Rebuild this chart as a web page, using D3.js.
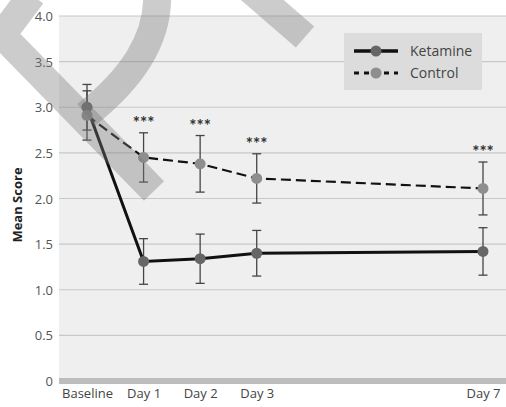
<!DOCTYPE html>
<html>
<head>
<meta charset="utf-8">
<script src="https://cdn.jsdelivr.net/npm/d3@7"></script>
<style>
  html, body { margin: 0; padding: 0; background: #ffffff; }
  svg { display: block; }
</style>
</head>
<body>
<svg id="chart" width="506" height="407"></svg>
<script>
// Time points (days after treatment) and their axis labels
const days = [0, 1, 2, 3, 7];
const dayLabels = ["Baseline", "Day 1", "Day 2", "Day 3", "Day 7"];

// Mean scores and error half-widths per group
const ketamineMean = [3.00, 1.31, 1.34, 1.40, 1.42];
const ketamineErr  = [0.25, 0.25, 0.27, 0.25, 0.26];
const controlMean  = [2.91, 2.45, 2.38, 2.22, 2.11];
const controlErr   = [0.27, 0.27, 0.31, 0.27, 0.29];

// Significance markers above the control group
const significance = ["", "***", "***", "***", "***"];

// Y axis ticks and their labels
const yTicks = [0, 0.5, 1.0, 1.5, 2.0, 2.5, 3.0, 3.5, 4.0];
const yTickLabels = ["0", "0.5", "1.0", "1.5", "2.0", "2.5", "3.0", "3.5", "4.0"];

const seriesNames = ["Ketamine", "Control"];

const svg = d3.select("#chart");
const plot = { left: 59, right: 506, top: 16, bottom: 381 };

const x = d3.scaleLinear().domain([0, 7]).range([87, 483]);
const y = d3.scaleLinear().domain([0, 4]).range([plot.bottom, plot.top]);

const font = "'Open Sans', 'DejaVu Sans', sans-serif";

// Plot background
svg.append("rect")
  .attr("x", plot.left).attr("y", plot.top)
  .attr("width", plot.right - plot.left).attr("height", plot.bottom - plot.top)
  .attr("fill", "#efefef");

// Horizontal gridlines
svg.append("g").selectAll("line")
  .data(yTicks.filter(t => t > 0))
  .join("line")
  .attr("x1", plot.left).attr("x2", plot.right)
  .attr("y1", d => y(d)).attr("y2", d => y(d))
  .attr("stroke", "#c8c8c8").attr("stroke-width", 1.2);

// Zero baseline band
svg.append("line")
  .attr("x1", plot.left).attr("x2", plot.right)
  .attr("y1", y(0)).attr("y2", y(0))
  .attr("stroke", "#bdbdbd").attr("stroke-width", 6);

// Y axis labels
const yAxis = d3.axisLeft(y).tickValues(yTicks)
  .tickFormat((d, i) => yTickLabels[i]).tickSize(0).tickPadding(0);
const gy = svg.append("g").attr("transform", "translate(53,0)").call(yAxis);
gy.select(".domain").remove();
gy.selectAll("text")
  .attr("font-family", font).attr("font-size", 13)
  .attr("fill", "#555").attr("dy", "0.35em");

// X axis labels
const xAxis = d3.axisBottom(x).tickValues(days)
  .tickFormat((d, i) => dayLabels[i]).tickSize(0).tickPadding(0);
const gx = svg.append("g").attr("transform", "translate(0,389)").call(xAxis);
gx.select(".domain").remove();
gx.selectAll("text")
  .attr("font-family", font).attr("font-size", 13)
  .attr("fill", "#444").attr("dy", "0.71em");

// Y axis title
svg.append("text")
  .attr("transform", "translate(22,205) rotate(-90)")
  .attr("text-anchor", "middle")
  .attr("font-family", font).attr("font-size", 13).attr("font-weight", "bold")
  .attr("fill", "#222")
  .text("Mean Score");

const series = [
  { name: seriesNames[0], mean: ketamineMean, err: ketamineErr, marker: "#666666", dash: null, width: 3 },
  { name: seriesNames[1], mean: controlMean, err: controlErr, marker: "#8e8e8e", dash: "10,5", width: 2.2 }
];

// Error bars
series.forEach(s => {
  const g = svg.append("g").attr("stroke", "#454545").attr("stroke-width", 1.3);
  days.forEach((d, i) => {
    const cx = x(d), top = y(s.mean[i] + s.err[i]), bot = y(s.mean[i] - s.err[i]);
    g.append("line").attr("x1", cx).attr("x2", cx).attr("y1", top).attr("y2", bot);
    g.append("line").attr("x1", cx - 4.5).attr("x2", cx + 4.5).attr("y1", top).attr("y2", top);
    g.append("line").attr("x1", cx - 4.5).attr("x2", cx + 4.5).attr("y1", bot).attr("y2", bot);
  });
});

// Lines
const lineGen = (s) => d3.line().x((d, i) => x(days[i])).y(d => y(d))(s.mean);
series.forEach(s => {
  svg.append("path")
    .attr("d", lineGen(s))
    .attr("fill", "none")
    .attr("stroke", "#111")
    .attr("stroke-width", s.width)
    .attr("stroke-dasharray", s.dash);
});

// Markers
series.forEach(s => {
  svg.append("g").selectAll("circle")
    .data(s.mean)
    .join("circle")
    .attr("cx", (d, i) => x(days[i]))
    .attr("cy", d => y(d))
    .attr("r", 5.5)
    .attr("fill", s.marker);
});

// Significance asterisks above control error bars
svg.append("g").selectAll("text")
  .data(significance)
  .join("text")
  .attr("x", (d, i) => x(days[i]))
  .attr("y", (d, i) => y(controlMean[i] + controlErr[i]) - 4)
  .attr("text-anchor", "middle")
  .attr("font-family", "Lato, sans-serif").attr("font-size", 17).attr("font-weight", "bold")
  .attr("fill", "#333")
  .text(d => d);

// Legend
const legend = svg.append("g");
legend.append("rect")
  .attr("x", 344).attr("y", 33).attr("width", 138).attr("height", 57)
  .attr("fill", "#dcdcdc");
series.forEach((s, i) => {
  const ly = 51 + i * 22;
  legend.append("line")
    .attr("x1", 354).attr("x2", 398).attr("y1", ly).attr("y2", ly)
    .attr("stroke", "#111")
    .attr("stroke-width", i === 0 ? 3.5 : 2.8)
    .attr("stroke-dasharray", i === 0 ? null : "5,5");
  legend.append("circle")
    .attr("cx", 376).attr("cy", ly).attr("r", 5.5).attr("fill", s.marker);
  legend.append("text")
    .attr("x", 410).attr("y", ly).attr("dy", "0.35em")
    .attr("font-family", font).attr("font-size", 14)
    .attr("fill", "#444")
    .text(s.name);
});

// Translucent brush-stroke overlay across the upper left
const overlay = svg.append("g")
  .attr("fill", "none")
  .attr("stroke", "rgba(120,120,120,0.38)")
  .attr("stroke-width", 28)
  .attr("stroke-linecap", "butt")
  .attr("stroke-linejoin", "miter");
overlay.append("path").attr("d", "M 32,-5 L 2,35 L 154,191");
overlay.append("path").attr("d", "M 157,-10 C 160,40 130,80 86,115");
overlay.append("path").attr("d", "M 245,-15 L 305,37");
</script>
</body>
</html>
